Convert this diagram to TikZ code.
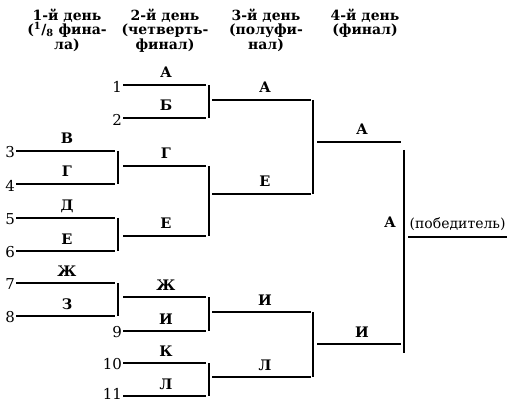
\documentclass[tikz,border=0pt]{standalone}
\usepackage{fontspec}
\setmainfont{DejaVu Serif}
\usepackage{tikz}

\begin{document}
\begin{tikzpicture}[x=1pt,y=-1pt,line width=1.2pt,
  num/.style={anchor=east,inner sep=0.5pt,yshift=-1.5pt,font=\fontsize{15}{15}\selectfont},
  plr/.style={anchor=base,inner sep=0pt,font=\bfseries\fontsize{14.5}{15}\selectfont},
  day/.style={anchor=north,align=center,inner sep=0pt,font=\bfseries\fontsize{14}{14.5}\selectfont}]
\useasboundingbox (0,0) rectangle (508,403);
% headers
\node[day] (d1) at (67,8) {1-й день\\(\textsuperscript{1}/\textsubscript{8} фина-\\ла)};
\node[day] (d2) at (165,8) {2-й день\\(четверть-\\финал)};
\node[day] (d3) at (266,8) {3-й день\\(полуфи-\\нал)};
\node[day] (d4) at (365,8) {4-й день\\(финал)};
% 1/8 final
\coordinate (s3) at (16,151); \coordinate (e3) at (115,151);
\coordinate (s4) at (16,184); \coordinate (e4) at (115,184);
\coordinate (s5) at (16,218); \coordinate (e5) at (115,218);
\coordinate (s6) at (16,251); \coordinate (e6) at (115,251);
\coordinate (s7) at (16,283); \coordinate (e7) at (115,283);
\coordinate (s8) at (16,316); \coordinate (e8) at (115,316);
\draw (s3)--(e3); \draw (s4)--(e4); \draw (s5)--(e5);
\draw (s6)--(e6); \draw (s7)--(e7); \draw (s8)--(e8);
\node[num] (n3) at (s3) {3};
\node[num] (n4) at (s4) {4};
\node[num] (n5) at (s5) {5};
\node[num] (n6) at (s6) {6};
\node[num] (n7) at (s7) {7};
\node[num] (n8) at (s8) {8};
\node[plr] (p3) at (67,144) {В};
\node[plr] (p4) at (67,177) {Г};
\node[plr] (p5) at (67,211) {Д};
\node[plr] (p6) at (67,244) {Е};
\node[plr] (p7) at (67,276) {Ж};
\node[plr] (p8) at (67,309) {З};
\coordinate (k34a) at (118,151); \coordinate (k34b) at (118,184);
\coordinate (k56a) at (118,218); \coordinate (k56b) at (118,251);
\coordinate (k78a) at (118,283); \coordinate (k78b) at (118,316);
\draw (k34a)--(k34b); \draw (k56a)--(k56b); \draw (k78a)--(k78b);
% quarter final
\coordinate (q1) at (123,85);  \coordinate (r1) at (206,85);
\coordinate (q2) at (123,118); \coordinate (r2) at (206,118);
\coordinate (q3) at (123,166); \coordinate (r3) at (206,166);
\coordinate (q4) at (123,236); \coordinate (r4) at (206,236);
\coordinate (q5) at (123,297); \coordinate (r5) at (206,297);
\coordinate (q6) at (123,331); \coordinate (r6) at (206,331);
\coordinate (q7) at (123,363); \coordinate (r7) at (206,363);
\coordinate (q8) at (123,396); \coordinate (r8) at (206,396);
\draw (q1)--(r1); \draw (q2)--(r2); \draw (q3)--(r3); \draw (q4)--(r4);
\draw (q5)--(r5); \draw (q6)--(r6); \draw (q7)--(r7); \draw (q8)--(r8);
\node[num] (n1) at (q1) {1};
\node[num] (n2) at (q2) {2};
\node[num] (n9) at (q6) {9};
\node[num] (n10) at (q7) {10};
\node[num,yshift=3.5pt] (n11) at (q8) {11};
\node[plr] (w1) at (166,78) {А};
\node[plr] (w2) at (166,111) {Б};
\node[plr] (w3) at (166,159) {Г};
\node[plr] (w4) at (166,229) {Е};
\node[plr] (w5) at (166,290) {Ж};
\node[plr] (w6) at (166,324) {И};
\node[plr] (w7) at (166,356) {К};
\node[plr] (w8) at (166,389) {Л};
\coordinate (k12a) at (209,85);  \coordinate (k12b) at (209,118);
\coordinate (k3a) at (209,166);  \coordinate (k3b) at (209,236);
\coordinate (k9a) at (209,297);  \coordinate (k9b) at (209,331);
\coordinate (k10a) at (209,363); \coordinate (k10b) at (209,396);
\draw (k12a)--(k12b); \draw (k3a)--(k3b); \draw (k9a)--(k9b); \draw (k10a)--(k10b);
% semi final
\coordinate (h1) at (212,100); \coordinate (i1) at (311,100);
\coordinate (h2) at (212,194); \coordinate (i2) at (311,194);
\coordinate (h3) at (212,312); \coordinate (i3) at (311,312);
\coordinate (h4) at (212,377); \coordinate (i4) at (311,377);
\draw (h1)--(i1); \draw (h2)--(i2); \draw (h3)--(i3); \draw (h4)--(i4);
\node[plr] (v1) at (265,93) {А};
\node[plr] (v2) at (265,187) {Е};
\node[plr] (v3) at (265,305) {И};
\node[plr] (v4) at (265,370) {Л};
\coordinate (m1a) at (313,100); \coordinate (m1b) at (313,194);
\coordinate (m2a) at (313,312); \coordinate (m2b) at (313,377);
\draw (m1a)--(m1b); \draw (m2a)--(m2b);
% final
\coordinate (f1) at (317,142); \coordinate (g1) at (401,142);
\coordinate (f2) at (317,344); \coordinate (g2) at (401,344);
\draw (f1)--(g1); \draw (f2)--(g2);
\node[plr] (u1) at (362,135) {А};
\node[plr] (u2) at (362,337) {И};
\coordinate (fa) at (404,150); \coordinate (fb) at (404,353);
\draw (fa)--(fb);
% winner
\node[plr] (win) at (390,228) {А};
\node[anchor=base west,inner sep=0pt,font=\fontsize{14}{15}\selectfont] (wt) at (409,229) {(победитель)};
\coordinate (ua) at (408,237); \coordinate (ub) at (507,237);
\draw (ua)--(ub);
\end{tikzpicture}
\end{document}
